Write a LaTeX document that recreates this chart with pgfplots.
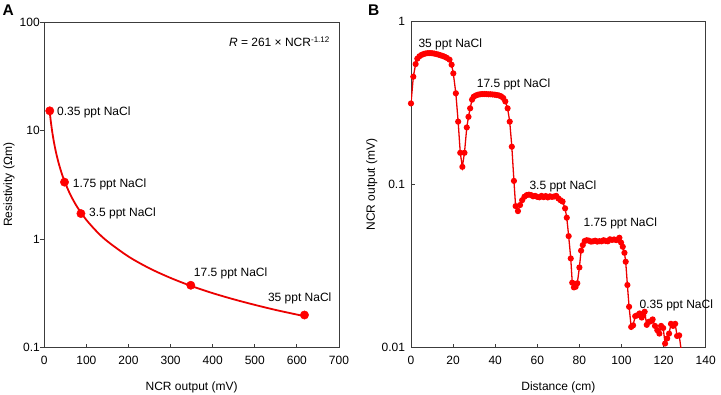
\documentclass[border=0pt]{standalone}
\usepackage{fontspec}
\setmainfont{Liberation Sans}
\usepackage{pgfplots}
\pgfplotsset{compat=1.18}
\definecolor{myred}{RGB}{235,0,0}
\definecolor{frame}{RGB}{60,60,60}
\begin{document}
\begin{tikzpicture}[font=\fontsize{12}{14}\selectfont]
\path[use as bounding box] (0pt,0pt) rectangle (721pt,-395pt);
\pgfplotsset{
  every axis/.append style={
    scale only axis,
    anchor=south west,
    clip mode=individual,
    axis line style={frame, line width=0.8pt},
    tick style={frame, line width=0.8pt},
    major tick length=4pt,
    xtick pos=bottom, ytick pos=left,
    yminorticks=false,
    /pgf/number format/assume math mode=true,
    ticklabel style={font=\fontsize{12}{14}\selectfont},
    label style={font=\fontsize{12}{14}\selectfont},
    xticklabel style={yshift=-5pt},
    xlabel style={at={(axis description cs:0.5,-0.1207)}, anchor=center},
  },
}
% ---------------- Panel A ----------------
\begin{axis}[
  at={(44.3pt,-347.7pt)},
  width=294.7pt, height=325.7pt,
  xmin=0, xmax=700, ymode=log, ymin=0.1, ymax=100,
  xtick={0,100,200,300,400,500,600,700},
  xticklabels={0,100,200,300,400,500,600,700},
  ytick={0.1,1,10,100}, yticklabels={0.1,1,10,100},
  xtick align=inside, ytick align=outside,
  yticklabel style={xshift=3pt},
  xlabel={NCR output (mV)},
  ylabel={Resistivity (Ωm)},
  ylabel style={at={(axis description cs:-0.12,0.5)}, rotate=0, anchor=center},
]
\addplot[myred, line width=1.8pt, smooth] table {
13 14.76
14 13.58
16 11.70
18 10.25
20 9.11
22 8.19
25 7.09
30 5.78
35 4.87
40 4.19
45 3.67
50 3.264
60 2.661
70 2.239
80 1.928
100 1.502
125 1.170
150 0.954
200 0.691
250 0.538
300 0.439
350 0.369
400 0.318
450 0.279
500 0.248
550 0.2225
600 0.2019
620 0.1946
};
\addplot[only marks, mark=*, mark size=4.2pt, mark options={draw=red, fill=red}] table {
13 15.2
48 3.35
87 1.72
348 0.376
618 0.200
};
\node[anchor=base west, inner sep=0pt] at (axis cs:30,13.9) {0.35 ppt NaCl};
\node[anchor=base west, inner sep=0pt] at (axis cs:67.4,3.01) {1.75 ppt NaCl};
\node[anchor=base west, inner sep=0pt] at (axis cs:106,1.61) {3.5 ppt NaCl};
\node[anchor=base west, inner sep=0pt] at (axis cs:355,0.452) {17.5 ppt NaCl};
\node[anchor=base west, inner sep=0pt] at (axis cs:531,0.266) {35 ppt NaCl};
\node[anchor=base east, inner sep=0pt] at (axis cs:678.7,59.3) {\textit{R} = 261 × NCR\textsuperscript{-1.12}};
\end{axis}
% ---------------- Panel B ----------------
\begin{axis}[
  at={(411pt,-347.7pt)},
  width=294.7pt, height=326.7pt,
  xmin=0, xmax=140, ymode=log, ymin=0.01, ymax=1,
  xtick={0,20,40,60,80,100,120,140},
  xticklabels={0,20,40,60,80,100,120,140},
  ytick={0.01,0.1,1}, yticklabels={0.01,0.1,1},
  tick align=inside,
  yticklabel style={xshift=-2.5pt},
  xlabel={Distance (cm)},
  ylabel={NCR output (mV)},
  ylabel style={at={(axis description cs:-0.1334,0.5)}, rotate=0, anchor=center},
]
\addplot[myred, line width=1.3pt, mark=*, mark size=2.4pt, mark options={draw=red, fill=red}] table {
0 0.313
1.1 0.456
2.2 0.545
3.0 0.588
4.0 0.608
5.0 0.620
6.0 0.628
7.0 0.633
8.0 0.636
9.0 0.636
10.0 0.635
11.0 0.632
12.0 0.628
13.0 0.623
14.0 0.617
15.0 0.611
16.0 0.604
17.0 0.595
18.3 0.580
19.3 0.540
20.1 0.478
21.3 0.361
22.4 0.242
23.4 0.156
24.4 0.128
25.4 0.156
26.5 0.223
27.3 0.259
28.1 0.292
29.0 0.330
29.8 0.344
30.8 0.350
31.8 0.354
32.8 0.356
33.8 0.357
34.8 0.357
35.8 0.357
36.8 0.356
37.8 0.356
38.8 0.355
39.8 0.354
40.8 0.352
41.8 0.350
42.8 0.346
43.8 0.338
44.8 0.322
45.9 0.292
46.9 0.242
47.9 0.170
48.9 0.105
49.7 0.0736
50.8 0.0686
51.8 0.0747
52.8 0.0800
53.9 0.0840
55.0 0.0860
56.0 0.0865
57.0 0.0860
58.0 0.0845
59.0 0.0850
60.0 0.0838
61.0 0.0833
62.0 0.0850
63.0 0.0835
64.0 0.0848
65.0 0.0832
66.0 0.0845
67.0 0.0838
68.0 0.0843
69.0 0.0850
70.0 0.0820
71.0 0.0800
72.0 0.0785
73.2 0.0713
74.0 0.0625
74.9 0.0482
75.9 0.0352
76.6 0.0250
77.4 0.0234
78.2 0.0236
79.0 0.0248
80.0 0.0310
80.8 0.0393
81.6 0.0425
82.5 0.0450
83.5 0.0455
84.5 0.0452
85.5 0.0446
86.5 0.0448
87.5 0.0452
88.5 0.0446
89.5 0.0449
90.5 0.0448
91.5 0.0455
92.5 0.0450
93.5 0.0448
94.5 0.0461
95.5 0.0457
96.5 0.0460
97.5 0.0456
98.2 0.0460
99.0 0.0471
99.8 0.0440
100.6 0.0415
101.4 0.0381
102.0 0.0336
102.8 0.0242
103.6 0.0178
104.6 0.0134
105.5 0.0137
106.5 0.0156
107.5 0.0158
108.6 0.0162
109.6 0.0153
110.3 0.0158
111.0 0.0166
112.0 0.0138
112.9 0.0144
113.8 0.0145
114.8 0.0149
115.9 0.0136
117.0 0.0128
118.0 0.0122
118.8 0.0136
119.8 0.0132
120.7 0.0106
121.7 0.0114
122.6 0.0122
123.5 0.0140
124.5 0.0136
125.5 0.0140
126.4 0.0118
127.4 0.0119
128.3 0.0098
};
\node[anchor=base west, inner sep=0pt] at (axis cs:3.5,0.686) {35 ppt NaCl};
\node[anchor=base west, inner sep=0pt] at (axis cs:31.2,0.391) {17.5 ppt NaCl};
\node[anchor=base west, inner sep=0pt] at (axis cs:56.2,0.0932) {3.5 ppt NaCl};
\node[anchor=base west, inner sep=0pt] at (axis cs:81.9,0.0550) {1.75 ppt NaCl};
\node[anchor=base west, inner sep=0pt] at (axis cs:108.5,0.0174) {0.35 ppt NaCl};
\end{axis}
\node[anchor=base west, inner sep=0pt, font=\fontsize{15.5}{17}\selectfont\bfseries] at (2.5pt,-16pt) {A};
\node[anchor=base west, inner sep=0pt, font=\fontsize{15.5}{17}\selectfont\bfseries] at (368pt,-16pt) {B};
\end{tikzpicture}
\end{document}
